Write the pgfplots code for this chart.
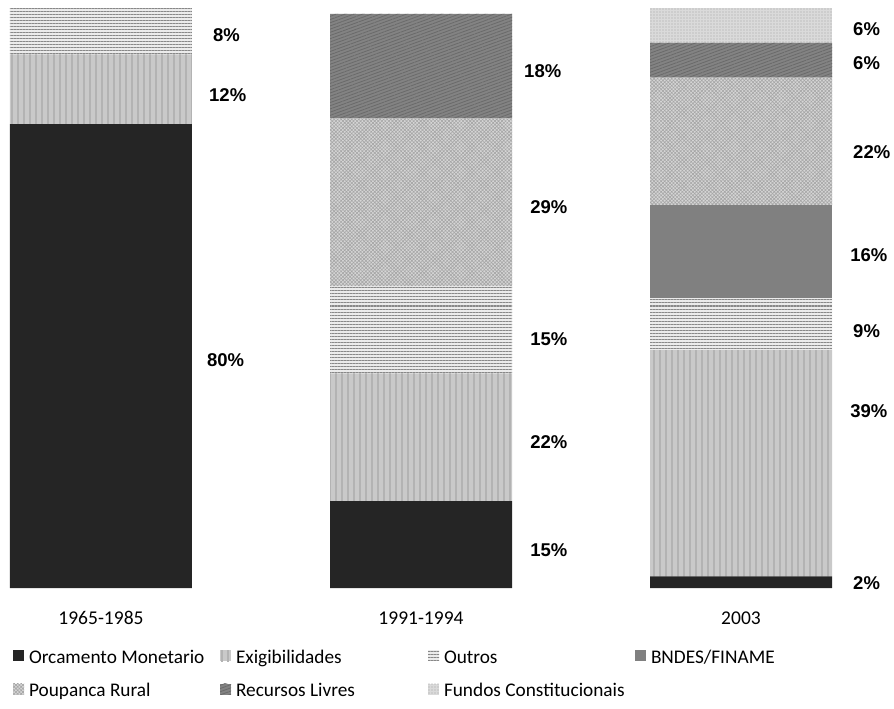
\documentclass[border=0pt]{standalone}
\usepackage{pgfplots}
\pgfplotsset{compat=1.18}
\usetikzlibrary{patterns.meta}
\usepackage{fontspec}
\setmainfont{Carlito}
\newfontfamily\arialfont{Liberation Sans}

\definecolor{cOrc}{HTML}{252525}
\definecolor{cExi}{HTML}{C9C9C9}
\definecolor{cExiL}{HTML}{B3B3B3}
\definecolor{cOut}{HTML}{EBEBEB}
\definecolor{cOutL}{HTML}{888888}
\definecolor{cBnd}{HTML}{808080}
\definecolor{cPou}{HTML}{D6D6D6}
\definecolor{cPouL}{HTML}{A6A6A6}
\definecolor{cRec}{HTML}{838383}
\definecolor{cRecL}{HTML}{6A6A6A}
\definecolor{cFun}{HTML}{DADADA}
\definecolor{cFunL}{HTML}{A4A4A4}

\newcommand{\lbl}[3]{\node[anchor=west, inner sep=0pt,
  font=\arialfont\bfseries\fontsize{18.5}{22}\selectfont] at (axis cs:#1,#2) {#3\%};}

\begin{document}
\begin{tikzpicture}
\begin{axis}[
    ybar stacked,
    scale only axis,
    width=894pt, height=588pt,
    bar width=182pt,
    xmin=-0.3156, xmax=2.4781,
    ymin=0, ymax=101.38,
    axis line style={draw=none},
    ytick=\empty,
    xtick={0,1,2},
    xticklabels={{\mbox{1965-1985}},{\mbox{1991-1994}},{\mbox{2003}}},
    /pgf/number format/assume math mode=true,
    major tick length=0pt,
    xticklabel style={font=\fontsize{19.5}{23}\selectfont, anchor=base,
      inner sep=0pt, yshift=-36.5pt},
    clip=false,
    legend columns=4,
    legend cell align=left,
    legend style={draw=none, fill=none, inner sep=0pt, outer sep=0pt,
      at={(rel axis cs:0,0)}, anchor=north west, xshift=13pt, yshift=-59pt,
      column sep=0pt, row sep=16pt,
      nodes={inner sep=0pt},
      font=\fontsize{19.3}{23}\selectfont,
      /tikz/every odd column/.append style={column sep=5pt}},
    legend image code/.code={\fill[#1] (0pt,-5.5pt) rectangle (11pt,5.5pt);},
    every axis plot/.append style={draw=none},
]
\addplot[fill=cOrc] coordinates {(0,80) (1,15) (2,2)};
\addplot[fill=cExi, postaction={pattern={Lines[angle=90, distance=6pt, line width=2.5pt]}, pattern color=cExiL}]
  coordinates {(0,12) (1,22) (2,39)};
\addplot[fill=cOut, postaction={pattern={Lines[angle=0, distance=3pt, line width=1pt]}, pattern color=cOutL}]
  coordinates {(0,8) (1,15) (2,9)};
\addplot[fill=cBnd] coordinates {(0,0) (1,0) (2,16)};
\addplot[fill=cPou, postaction={pattern={Hatch[angle=45, distance=2.5pt, line width=0.6pt]}, pattern color=cPouL}]
  coordinates {(0,0) (1,29) (2,22)};
\addplot[fill=cRec, postaction={pattern={Lines[angle=20, distance=3pt, line width=0.8pt]}, pattern color=cRecL}]
  coordinates {(0,0) (1,18) (2,6)};
\addplot[fill=cFun, postaction={pattern={Dots[distance=3pt, radius=0.6pt]}, pattern color=cFunL}]
  coordinates {(0,0) (1,0) (2,6)};

\addlegendentry{\makebox[191pt][l]{\strut Orcamento Monetario}}
\addlegendentry{\makebox[192pt][l]{\strut Exigibilidades}}
\addlegendentry{\makebox[191pt][l]{\strut Outros}}
\addlegendentry{\makebox[191pt][l]{\strut BNDES/FINAME}}
\addlegendentry{\makebox[191pt][l]{\strut Poupanca Rural}}
\addlegendentry{\makebox[192pt][l]{\strut Recursos Livres}}
\addlegendentry{\makebox[191pt][l]{\strut Fundos Constitucionais}}

% rotulos de dados
\lbl{0.35}{95.3}{8}
\lbl{0.3375}{85.0}{12}
\lbl{0.331}{39.3}{80}
\lbl{1.322}{89.1}{18}
\lbl{1.341}{65.7}{29}
\lbl{1.341}{42.9}{15}
\lbl{1.341}{25.2}{22}
\lbl{1.341}{6.55}{15}
\lbl{2.35}{96.4}{6}
\lbl{2.35}{90.5}{6}
\lbl{2.35}{75.2}{22}
\lbl{2.341}{57.4}{16}
\lbl{2.35}{44.3}{9}
\lbl{2.341}{30.5}{39}
\lbl{2.35}{0.86}{2}
\end{axis}
\pgfresetboundingbox
\path (current axis.south west) ++(0pt,-120pt) rectangle (current axis.north east);
\end{tikzpicture}
\end{document}
